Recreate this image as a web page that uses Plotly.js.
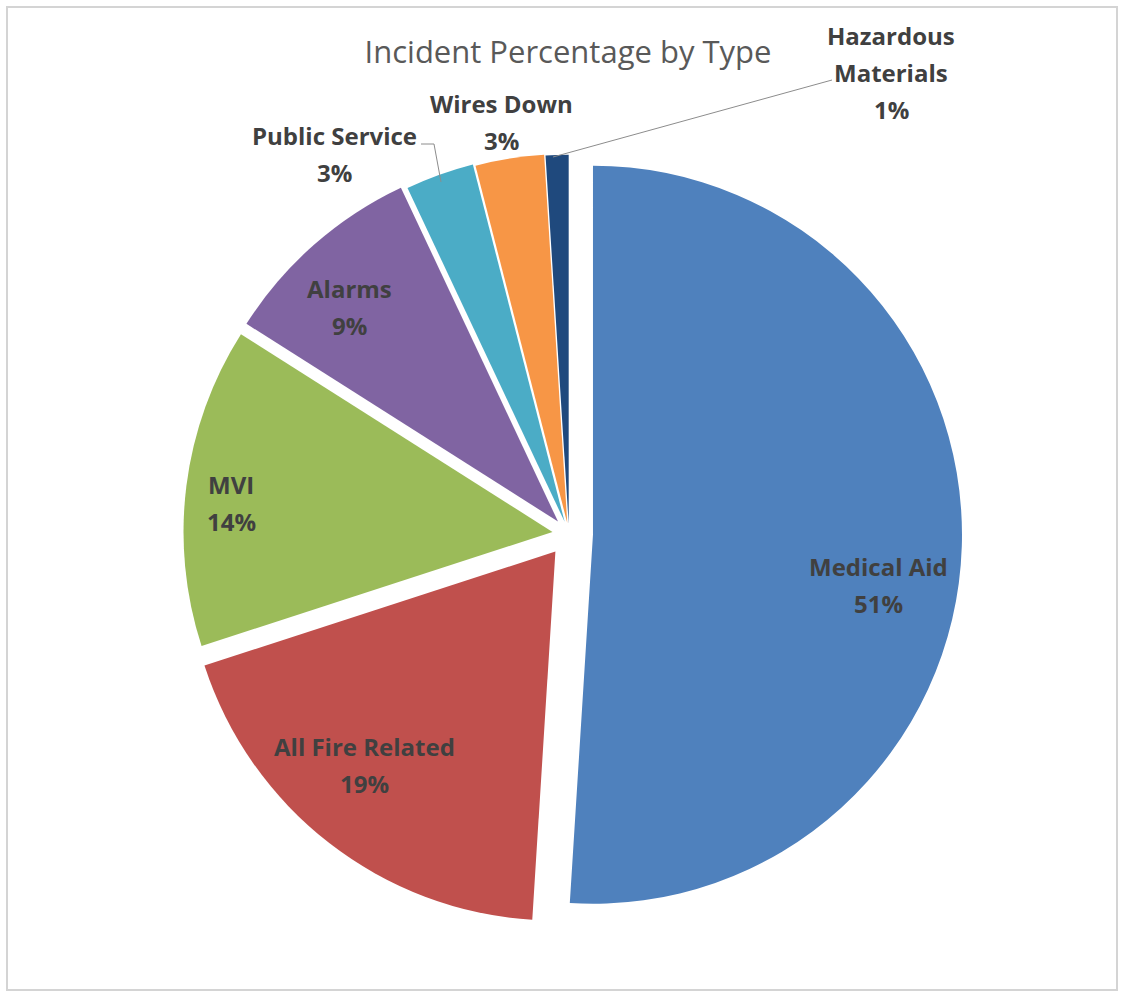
<!DOCTYPE html>
<html>
<head>
<meta charset="utf-8">
<script src="https://cdn.plot.ly/plotly-3.0.1.min.js"></script>
<style>html,body{margin:0;padding:0;background:#fff;}#chart{width:1124px;height:991px;}</style>
</head>
<body>
<div id="chart"></div>
<script>
// ---- data ----
var categories = ["Medical Aid", "All Fire Related", "MVI", "Alarms", "Public Service", "Wires Down", "Hazardous Materials"];
var percentages = [51, 19, 14, 9, 3, 3, 1];
var sliceColors = ["#4F81BD", "#C0504D", "#9BBB59", "#8064A2", "#4BACC6", "#F79646", "#1F497D"];
var titleText = "Incident Percentage by Type";

// ---- styling / placement ----
var W = 1124, H = 991;
var pulls = [0.065, 0.06, 0.045, 0.045, 0.035, 0.03, 0.028];
// label lines (category name split for wrapping), then the percent line
var labelLines = [
  ["Medical Aid"], ["All Fire Related"], ["MVI"], ["Alarms"], ["Public Service"], ["Wires Down"], ["Hazardous", "Materials"]
];
// label centre x and first-line centre y (pixels), line spacing
var labelX = [878, 364, 231, 349, 334, 501, 891];
var labelY0 = [566, 746, 484, 288, 135, 103, 35];
var lineGap = 37;

function px(x) { return x / W; }
function py(y) { return 1 - y / H; }

var cx = 569, cy = 534, half = 393;

var trace = {
  type: "pie",
  labels: categories,
  values: percentages,
  sort: false,
  direction: "clockwise",
  rotation: 0,
  pull: pulls,
  marker: { colors: sliceColors, line: { width: 0 } },
  textinfo: "none",
  hoverinfo: "label+percent",
  showlegend: false,
  domain: { x: [px(cx - half), px(cx + half)], y: [py(cy + half), py(cy - half)] }
};

var labelFont = { family: "Open Sans, Noto Sans, sans-serif", size: 24, color: "#404040" };
var annotations = [];
categories.forEach(function (c, i) {
  var lines = labelLines[i].concat([percentages[i] + "%"]);
  lines.forEach(function (t, k) {
    annotations.push({
      text: "<b>" + t + "</b>",
      x: px(labelX[i]), y: py(labelY0[i] + k * lineGap),
      xref: "paper", yref: "paper",
      xanchor: "center", yanchor: "middle",
      showarrow: false,
      font: labelFont
    });
  });
});

var shapes = [
  { type: "rect", xref: "paper", yref: "paper", x0: px(7), x1: px(1117), y0: py(990), y1: py(7),
    line: { color: "#d4d4d4", width: 2 }, fillcolor: "rgba(0,0,0,0)", layer: "below" },
  // leader line: Public Service
  { type: "path", xref: "paper", yref: "paper",
    path: "M " + px(421) + "," + py(144) + " L " + px(434) + "," + py(144) + " L " + px(441) + "," + py(182),
    line: { color: "#8c8c8c", width: 1 } },
  // leader line: Hazardous Materials
  { type: "line", xref: "paper", yref: "paper", x0: px(832), y0: py(80), x1: px(553), y1: py(157),
    line: { color: "#8c8c8c", width: 1 } }
];

var layout = {
  width: W, height: H,
  margin: { l: 0, r: 0, t: 0, b: 0 },
  paper_bgcolor: "#ffffff",
  title: {
    text: titleText,
    x: px(568), xanchor: "center",
    y: py(52), yanchor: "middle",
    font: { family: "Open Sans, Noto Sans, sans-serif", size: 31, color: "#595959" }
  },
  annotations: annotations,
  shapes: shapes
};

Plotly.newPlot("chart", [trace], layout, { displayModeBar: false, staticPlot: true });
</script>
</body>
</html>
